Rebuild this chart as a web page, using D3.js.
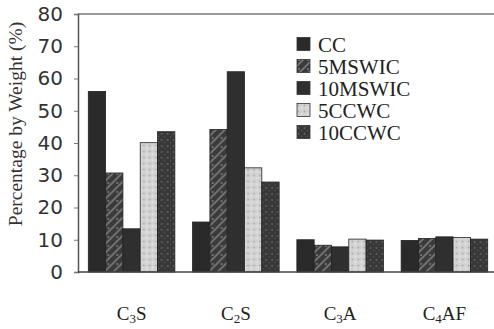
<!DOCTYPE html>
<html>
<head>
    <meta charset="utf-8">
    <style>
        body { margin: 0; background: #fff; }
        .ytick text { font: 20px "DejaVu Sans", sans-serif; fill: #333; }
        .xlab { font: 19px "Liberation Serif", serif; fill: #222; }
        .legend text { font: 21px "Liberation Serif", serif; fill: #222; }
        .ytitle { font: 19.5px "Liberation Serif", serif; fill: #333; }
    </style>
</head>
<body>
    <svg width="494" height="329"></svg>

    <script src="https://d3js.org/d3.v7.min.js"></script>

    <script>
        var categories = ["C3S", "C2S", "C3A", "C4AF"];
        var series = ["CC", "5MSWIC", "10MSWIC", "5CCWC", "10CCWC"];
        // percentage by weight, one array per series (same order as categories)
        var cc      = [56, 15.5, 10, 9.8];
        var mswic5  = [30.7, 44.2, 8.3, 10.4];
        var mswic10 = [13.4, 62.1, 7.8, 10.9];
        var ccwc5   = [40.1, 32.3, 10.2, 10.7];
        var ccwc10  = [43.5, 27.9, 9.9, 10.2];
        var yTicks = [0, 10, 20, 30, 40, 50, 60, 70, 80];

        var values = [cc, mswic5, mswic10, ccwc5, ccwc10];
        var fills = ["#2a2a2a", "url(#p5m)", "#2f2f2f", "url(#p5c)", "url(#p10c)"];

        var svg = d3.select("svg");
        var mLeft = 78, mRight = 494, mTop = 14, mBottom = 272;

        // textures
        var defs = svg.append("defs");
        var p = defs.append("pattern").attr("id", "p5m").attr("patternUnits", "userSpaceOnUse")
            .attr("width", 9).attr("height", 9);
        p.append("rect").attr("width", 9).attr("height", 9).attr("fill", "#3a3a3a");
        p.append("path").attr("d", "M0,9 L9,0 M-2,2 L2,-2 M7,11 L11,7").attr("stroke", "#7a7a7a").attr("stroke-width", 1.6);
        p.append("circle").attr("cx", 2).attr("cy", 3).attr("r", 0.9).attr("fill", "#888");

        p = defs.append("pattern").attr("id", "p5c").attr("patternUnits", "userSpaceOnUse")
            .attr("width", 6).attr("height", 6);
        p.append("rect").attr("width", 6).attr("height", 6).attr("fill", "#d3d3d3");
        p.append("circle").attr("cx", 1.5).attr("cy", 1.5).attr("r", 0.9).attr("fill", "#a8a8a8");
        p.append("circle").attr("cx", 4.5).attr("cy", 4).attr("r", 0.8).attr("fill", "#eee");

        p = defs.append("pattern").attr("id", "p10c").attr("patternUnits", "userSpaceOnUse")
            .attr("width", 6).attr("height", 6);
        p.append("rect").attr("width", 6).attr("height", 6).attr("fill", "#383838");
        p.append("circle").attr("cx", 1.5).attr("cy", 2).attr("r", 0.9).attr("fill", "#666");
        p.append("circle").attr("cx", 4.5).attr("cy", 4.5).attr("r", 0.7).attr("fill", "#555");

        var x0 = d3.scaleBand().domain(categories).range([81, 495]).paddingInner(0.17).paddingOuter(0.07);
        var x1 = d3.scaleBand().domain(series).range([0, x0.bandwidth()]);
        var y = d3.scaleLinear().domain([0, 80]).range([mBottom, mTop]);

        // frame: top line, left axis
        svg.append("line").attr("x1", mLeft).attr("x2", mRight).attr("y1", mTop).attr("y2", mTop)
            .attr("stroke", "#777").attr("stroke-width", 1.5);

        var yAxis = svg.append("g").attr("class", "ytick")
            .attr("transform", "translate(" + mLeft + ",0)")
            .call(d3.axisLeft(y).tickValues(yTicks).tickSize(4).tickPadding(11));
        yAxis.select(".domain").attr("stroke", "#555").attr("stroke-width", 1.5);
        yAxis.selectAll(".tick line").attr("stroke", "#777");

        // bars
        var groups = svg.selectAll(".grp").data(categories).enter().append("g")
            .attr("class", "grp")
            .attr("transform", function(d) { return "translate(" + x0(d) + ",0)"; });
        groups.selectAll("rect")
            .data(function(d, ci) { return series.map(function(s, si) { return { s: s, si: si, v: values[si][ci] }; }); })
            .enter().append("rect")
            .attr("x", function(d) { return x1(d.s); })
            .attr("width", x1.bandwidth())
            .attr("y", function(d) { return y(d.v); })
            .attr("height", function(d) { return y(0) - y(d.v); })
            .attr("fill", function(d) { return fills[d.si]; })
            .attr("stroke", "#222").attr("stroke-width", 0.8);

        // bottom axis line
        svg.append("line").attr("x1", mLeft).attr("x2", mRight).attr("y1", mBottom).attr("y2", mBottom)
            .attr("stroke", "#444").attr("stroke-width", 1.5);

        // category labels with subscripts
        var subs = { "C3S": ["C", "3", "S"], "C2S": ["C", "2", "S"], "C3A": ["C", "3", "A"], "C4AF": ["C", "4", "AF"] };
        categories.forEach(function(c) {
            var t = svg.append("text").attr("class", "xlab")
                .attr("x", x0(c) + x0.bandwidth() / 2).attr("y", 320)
                .attr("text-anchor", "middle");
            var parts = subs[c];
            t.append("tspan").text(parts[0]);
            t.append("tspan").attr("font-size", "13px").attr("dy", 3).text(parts[1]);
            t.append("tspan").attr("dy", -3).text(parts[2]);
        });

        // y title
        svg.append("text").attr("class", "ytitle")
            .attr("transform", "translate(22,124) rotate(-90)")
            .attr("text-anchor", "middle")
            .text("Percentage by Weight (%)");

        // legend
        var lg = svg.append("g").attr("class", "legend").attr("transform", "translate(297,44)");
        var items = lg.selectAll("g").data(series).enter().append("g")
            .attr("transform", function(d, i) { return "translate(0," + (i * 22) + ")"; });
        items.append("rect").attr("x", 0).attr("y", -6.5).attr("width", 13).attr("height", 13)
            .attr("fill", function(d, i) { return fills[i]; })
            .attr("stroke", "#333").attr("stroke-width", 0.8);
        items.append("text").attr("x", 21).attr("y", 7.5).text(function(d) { return d; });
    </script>
</body>
</html>
